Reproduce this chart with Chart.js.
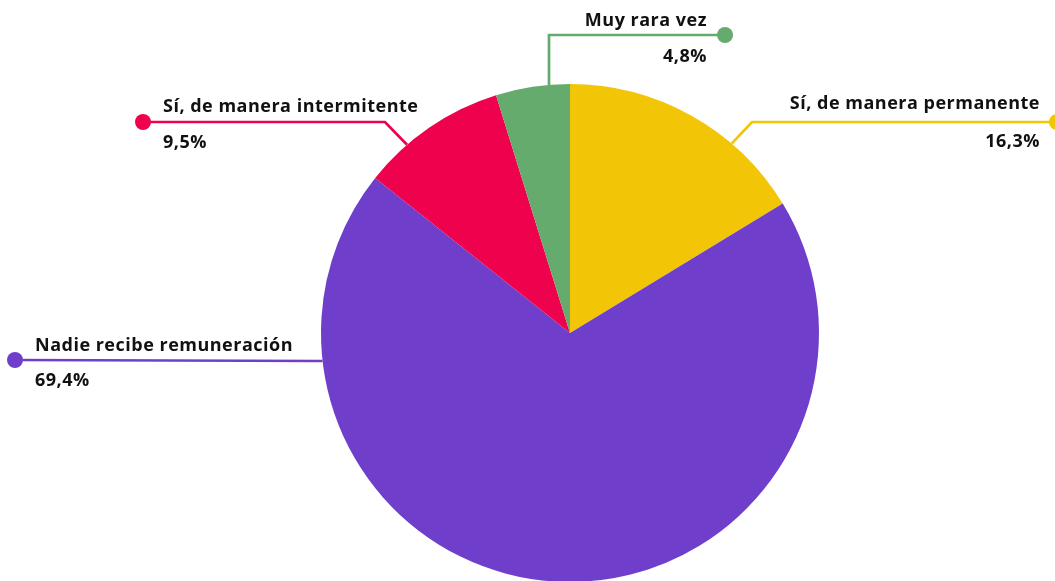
<!DOCTYPE html>
<html><head><meta charset="utf-8">
<script src="https://cdn.jsdelivr.net/npm/chart.js@4"></script>
<style>
html,body{margin:0;padding:0;background:#fff;overflow:hidden;}
#wrap{position:relative;width:1055px;height:600px;}
</style></head>
<body><div id="wrap"><canvas id="c" width="1055" height="600"></canvas></div>
<script>
const categories = ["Sí, de manera permanente", "Nadie recibe remuneración", "Sí, de manera intermitente", "Muy rara vez"];
const values = [16.3, 69.4, 9.5, 4.8];
const valueLabels = ["16,3%", "69,4%", "9,5%", "4,8%"];
const colors = ["#F2C607", "#6F3FCB", "#EE024E", "#66AB6E"];

// callout layout (positions/styles only)
const callouts = [
  {frac:0.69, dot:[1057,122], elbow:752, align:'right', tx:1040, ly:109, vy:147},
  {frac:0.82, dot:[15,360], elbow:null, align:'left', tx:35, ly:351, vy:386},
  {frac:0.31, dot:[143,122], elbow:385, align:'left', tx:163, ly:112, vy:148},
  {frac:0.72, dot:[725,35], elbow:'v', align:'right', tx:707, ly:26, vy:62}
];

const calloutPlugin = {
  id:'callouts',
  afterDatasetsDraw(chart){
    const ctx = chart.ctx;
    const meta = chart.getDatasetMeta(0);
    meta.data.forEach((arc,i)=>{
      const c = callouts[i];
      const p = arc.getProps(['x','y','startAngle','endAngle','outerRadius'], true);
      const a = p.startAngle + (p.endAngle - p.startAngle)*c.frac;
      const ax = p.x + Math.cos(a)*p.outerRadius;
      const ay = p.y + Math.sin(a)*p.outerRadius;
      ctx.save();
      ctx.strokeStyle = colors[i];
      ctx.fillStyle = colors[i];
      ctx.lineWidth = 2.7;
      ctx.beginPath();
      ctx.moveTo(c.dot[0], c.dot[1]);
      if (c.elbow === 'v') { ctx.lineTo(ax, c.dot[1]); }
      else if (c.elbow !== null) { ctx.lineTo(c.elbow, c.dot[1]); }
      ctx.lineTo(ax, ay);
      ctx.stroke();
      ctx.beginPath();
      ctx.arc(c.dot[0], c.dot[1], 8, 0, Math.PI*2);
      ctx.fill();
      ctx.fillStyle = '#111';
      ctx.textAlign = c.align;
      ctx.textBaseline = 'alphabetic';
      ctx.font = '700 18px "Open Sans"';
      try { ctx.letterSpacing = '0.5px'; } catch(e){}
      ctx.fillText(categories[i], c.tx, c.ly);
      ctx.fillText(valueLabels[i], c.tx, c.vy);
      ctx.restore();
    });
  }
};

new Chart(document.getElementById('c'), {
  type:'pie',
  data:{labels:categories, datasets:[{data:values, backgroundColor:colors, borderWidth:0}]},
  options:{
    responsive:false, animation:false,
    layout:{padding:{left:321, right:236, top:84, bottom:18}},
    plugins:{legend:{display:false}, tooltip:{enabled:false}}
  },
  plugins:[calloutPlugin]
});
</script></body></html>
